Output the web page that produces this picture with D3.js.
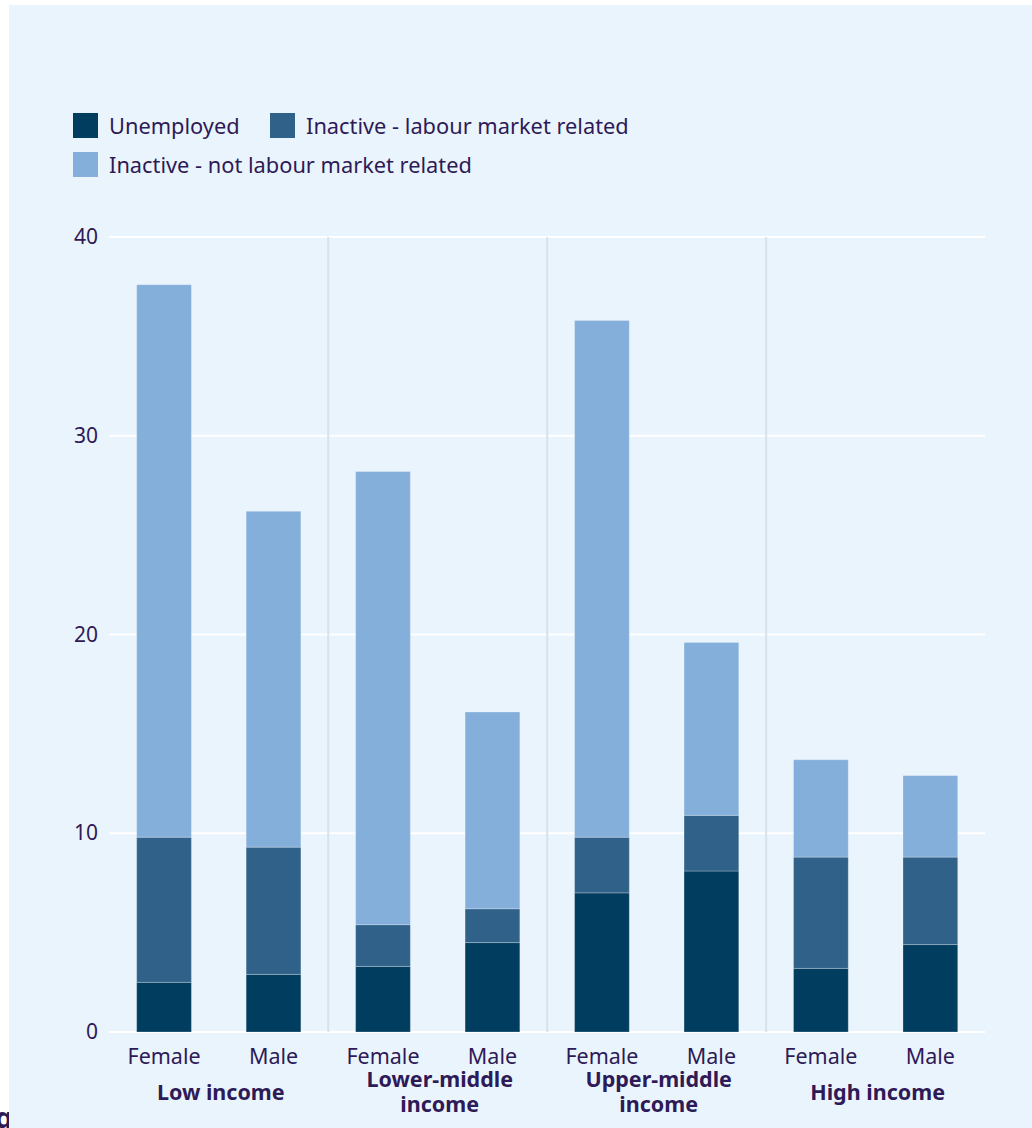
<!DOCTYPE html>
<html>
<head>
<meta charset="utf-8">
<script src="https://cdn.jsdelivr.net/npm/d3@7"></script>
<style>
  html, body { margin: 0; padding: 0; background: #ffffff; }
  svg { display: block; font-family: "Noto Sans", "Open Sans", sans-serif; }
</style>
</head>
<body>
<svg id="chart" width="1032" height="1128"></svg>
<script>
// Income groups and the two bars inside each
const groups = ["Low income", "Lower-middle income", "Upper-middle income", "High income"];
const groupLines = [["Low income"], ["Lower-middle", "income"], ["Upper-middle", "income"], ["High income"]];
const sexes = ["Female", "Male"];

// Stacked shares (%), one value per bar: group x sex, Female first
const unemployed     = [2.5, 2.9, 3.3, 4.5, 7.0, 8.1, 3.2, 4.4];
const labourRelated  = [7.3, 6.4, 2.1, 1.7, 2.8, 2.8, 5.6, 4.4];
const notLabour      = [27.8, 16.9, 22.8, 9.9, 26.0, 8.7, 4.9, 4.1];

const seriesNames  = ["Unemployed", "Inactive - labour market related", "Inactive - not labour market related"];
const seriesColors = ["#003d5f", "#306189", "#84afdb"];
const yTicks = [0, 10, 20, 30, 40];

const textColor = "#2e1a56";

const svg = d3.select("#chart");

// Page and panel background
svg.append("rect").attr("width", 1032).attr("height", 1128).attr("fill", "#ffffff");
svg.append("rect").attr("x", 9).attr("y", 5).attr("width", 1023).attr("height", 1123).attr("fill", "#eaf4fd");

// Build one row per bar
const rows = [];
groups.forEach((g, gi) => {
  sexes.forEach((s, si) => {
    const i = gi * 2 + si;
    rows.push({ key: g + "|" + s, group: g, sex: s,
      "Unemployed": unemployed[i],
      "Inactive - labour market related": labourRelated[i],
      "Inactive - not labour market related": notLabour[i] });
  });
});

const x = d3.scaleBand()
  .domain(rows.map(d => d.key))
  .range([109.3, 985.1])
  .paddingInner(0.5)
  .paddingOuter(0.25);

const y = d3.scaleLinear().domain([0, 40]).range([1032, 237]);

const stack = d3.stack().keys(seriesNames);
const stacked = stack(rows);

// Horizontal grid lines
svg.append("g").selectAll("line").data(yTicks).join("line")
  .attr("x1", 109).attr("x2", 985)
  .attr("y1", d => y(d)).attr("y2", d => y(d))
  .attr("stroke", "#ffffff").attr("stroke-width", 2);

// Vertical separators between income groups
const sepX = groups.slice(1).map((g, i) => {
  const prevMale = x(groups[i] + "|Male") + x.bandwidth();
  const nextFem = x(g + "|Female");
  return (prevMale + nextFem) / 2;
});
svg.append("g").selectAll("line").data(sepX).join("line")
  .attr("x1", d => d).attr("x2", d => d)
  .attr("y1", y(40)).attr("y2", y(0))
  .attr("stroke", "#d6e2ec").attr("stroke-width", 2);

// Y axis tick labels
const yAxis = d3.axisLeft(y).tickValues(yTicks).tickSize(0).tickPadding(0);
const yg = svg.append("g").attr("transform", "translate(98,0)").call(yAxis);
yg.select(".domain").remove();
yg.selectAll("text")
  .attr("fill", textColor)
  .style("font-size", "21px")
  .style("font-family", "'Noto Sans', sans-serif");

// Stacked bars
svg.append("g").selectAll("g").data(stacked).join("g")
  .attr("fill", (d, i) => seriesColors[i])
  .selectAll("rect").data(d => d).join("rect")
  .attr("x", d => x(d.data.key))
  .attr("width", x.bandwidth())
  .attr("y", d => y(d[1]))
  .attr("height", d => y(d[0]) - y(d[1]))
  .attr("stroke", "#ffffff").attr("stroke-opacity", 0.25).attr("stroke-width", 1);

// X axis: Female / Male labels
const xAxis = d3.axisBottom(x).tickSize(0).tickPadding(0).tickFormat(k => k.split("|")[1]);
const xg = svg.append("g").attr("transform", "translate(0,1047)").call(xAxis);
xg.select(".domain").remove();
xg.selectAll("text")
  .attr("fill", textColor)
  .attr("dy", "0.8em")
  .style("font-size", "21.5px")
  .style("font-family", "'Noto Sans', sans-serif");

// Group labels (bold, possibly on two lines)
groups.forEach((g, gi) => {
  const cx = (x(g + "|Female") + x(g + "|Male") + x.bandwidth()) / 2 + 2;
  const lines = groupLines[gi];
  const t = svg.append("text")
    .attr("x", cx)
    .attr("text-anchor", "middle")
    .attr("fill", textColor)
    .style("font-size", "21.5px")
    .style("font-weight", "bold");
  const startY = lines.length === 1 ? 1100 : 1087;
  lines.forEach((ln, li) => {
    t.append("tspan").attr("x", cx).attr("y", startY + li * 25).text(ln);
  });
});

// Legend
const legendItems = [
  { name: seriesNames[0], color: seriesColors[0], x: 73, y: 113 },
  { name: seriesNames[1], color: seriesColors[1], x: 270, y: 113 },
  { name: seriesNames[2], color: seriesColors[2], x: 73, y: 152 }
];
const lg = svg.append("g").selectAll("g").data(legendItems).join("g")
  .attr("transform", d => `translate(${d.x},${d.y})`);
lg.append("rect").attr("width", 25).attr("height", 25).attr("fill", d => d.color);
lg.append("text")
  .attr("x", 36).attr("y", 13).attr("dy", "0.35em")
  .attr("fill", textColor)
  .style("font-size", "21.8px")
  .text(d => d.name);

// Clipped heading glyph at the lower-left page edge
svg.append("text")
  .attr("x", -5).attr("y", 1128)
  .attr("fill", textColor)
  .style("font-size", "28px")
  .style("font-weight", "bold")
  .text("g");
svg.append("rect").attr("x", 9).attr("y", 1098).attr("width", 20).attr("height", 30).attr("fill", "#eaf4fd");
</script>
</body>
</html>
